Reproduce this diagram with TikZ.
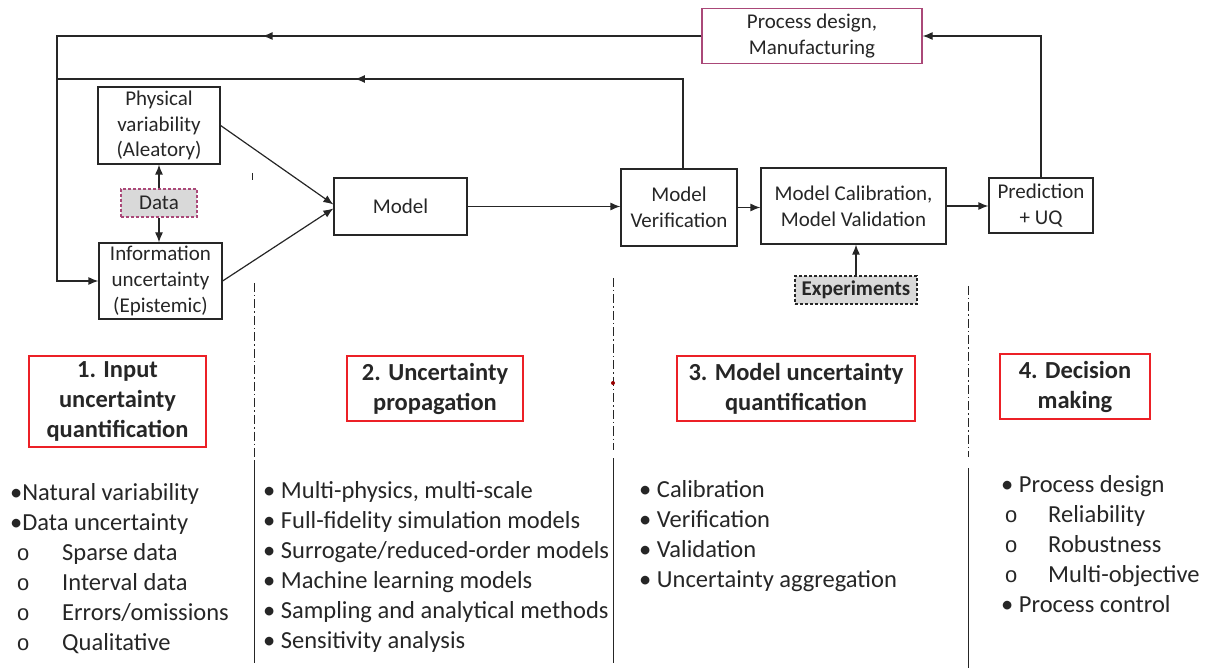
\documentclass[tikz,border=0pt]{standalone}
\usepackage{fontspec}
\setmainfont{Carlito}
\newfontfamily\monofont{Liberation Mono}
\usetikzlibrary{arrows, arrows.meta}
\usetikzlibrary{calc}

\definecolor{ink}{RGB}{38,38,38}
\definecolor{plum}{RGB}{170,72,120}
\definecolor{boxred}{RGB}{236,32,38}
\definecolor{fillgray}{RGB}{217,217,217}

% sub-bullet: offset of the o, tab width, text
\newcommand{\subpt}[3]{\makebox[#2][l]{\hspace*{#1}{\monofont\fontsize{22}{30}\selectfont o}}#3}

\tikzset{
  blk/.style={draw=ink, line width=1.2pt, text=ink, align=center, inner sep=0pt,
    font=\fontsize{21}{25.6}\selectfont},
  tag/.style={blk, dash pattern=on 3pt off 2pt, fill=fillgray},
  stage/.style={draw=boxred, line width=2pt, text=ink, align=center, inner sep=0pt,
    font=\fontsize{24.5}{30}\selectfont\bfseries},
  item/.style={text=ink, align=left, inner sep=0pt, anchor=base west,
    font=\fontsize{24.5}{30}\selectfont},
  lnk/.style={draw=ink, line width=1.2pt},
  arr/.style={lnk, -{Latex[length=10pt,width=8pt]}},
  sep/.style={draw=ink, line width=0.8pt, dash pattern=on 9pt off 3pt on 1.5pt off 3pt},
}

\begin{document}
\begin{tikzpicture}[x=1pt, y=-1pt]
\useasboundingbox (0,0) rectangle (1211,668);

% flow blocks
\node[blk, draw=plum, minimum width=220pt, minimum height=55pt] (pd) at (812,36) {Process design,\\Manufacturing};
\node[blk, minimum width=122pt, minimum height=77pt] (phys) at (159,125.5) {Physical\\variability\\(Aleatory)};
\node[tag, draw=plum, minimum width=76pt, minimum height=28pt] (data) at (159,203) {Data};
\node[blk, minimum width=123pt, minimum height=76pt] (info) at (160.5,281) {Information\\uncertainty\\(Epistemic)};
\node[blk, minimum width=133pt, minimum height=57pt] (model) at (400.5,206.5) {Model};
\node[blk, minimum width=116pt, minimum height=77pt] (ver) at (679,207.5) {Model\\Verification};
\node[blk, minimum width=185pt, minimum height=76pt] (cal) at (853.5,206) {Model Calibration,\\Model Validation};
\node[blk, minimum width=104pt, minimum height=55pt] (pred) at (1041,205.5) {Prediction\\+ UQ};
\node[tag, font=\fontsize{21}{25.6}\selectfont\bfseries, minimum width=122pt, minimum height=28pt] (exp) at (856,290) {Experiments};

\coordinate (tl) at (57,36);
\coordinate (ml) at (57,79);
\coordinate (vt) at ($(ver.north)+(4,0)$);
\coordinate (mr) at (vt |- ml);

% feedback loops
\draw[arr] (pred.north) |- (pd.east);
\draw[arr] (pd.west) -- (tl) |- (info.west);
\draw[arr] (pd.west) -- ($(tl)!0.319!(pd.west)$);
\draw[lnk] (vt) -- (mr) -- (ml);
\draw[arr] (mr) -- ($(ml)!0.476!(mr)$);

% forward flow
\draw[arr] (data.north) -- (data.north |- phys.south);
\draw[arr] (data.south) -- (data.south |- info.north);
\draw[arr] (phys.east) -- ([yshift=2pt]model.west);
\draw[arr] (info.east) -- ([yshift=-2pt]model.west);
\draw[arr] (model.east) -- (model.east -| ver.west);
\draw[arr] (ver.east) -- (ver.east -| cal.west);
\draw[arr] (cal.east) -- (cal.east -| pred.west);
\draw[arr] (exp.north) -- (exp.north |- cal.south);

% column separators
\draw[sep] (254.5,283) -- (254.5,457);
\draw[lnk, line width=1pt] (254.5,460) -- (254.5,663);
\draw[sep] (613,278) -- (613,450);
\draw[lnk, line width=1pt] (613,458) -- (613,663);
\draw[sep] (968,286) -- (968,457);
\draw[lnk, line width=1pt] (968,468) -- (968,668);
\fill[red!60!black] (613,383) circle (2pt);
\draw[ink, line width=0.8pt] (252,173) -- (252,180);

% stages
\node[stage, minimum width=177pt, minimum height=91pt] (s1) at (117.5,401.5) {1. Input\\uncertainty\\quantification};
\node[stage, minimum width=176pt, minimum height=65pt] (s2) at (435,388.5) {2. Uncertainty\\propagation};
\node[stage, minimum width=238pt, minimum height=65pt] (s3) at (796,388.5) {3. Model uncertainty\\quantification};
\node[stage, minimum width=150pt, minimum height=65pt] (s4) at (1075,386.5) {4. Decision\\making};

% lists (base = last line)
\node[item] (l1) at (10,650) {•Natural variability\\•Data uncertainty\\
  \subpt{6.4pt}{52pt}{Sparse data}\\\subpt{6.4pt}{52pt}{Interval data}\\
  \subpt{6.4pt}{52pt}{Errors/omissions}\\\subpt{6.4pt}{52pt}{Qualitative}};
\node[item] (l2) at (263,648) {• Multi-physics, multi-scale\\• Full-fidelity simulation models\\
  • Surrogate/reduced-order models\\• Machine learning models\\
  • Sampling and analytical methods\\• Sensitivity analysis};
\node[item] (l3) at (639,587) {• Calibration\\• Verification\\• Validation\\• Uncertainty aggregation};
\node[item] (l4) at (1001,612) {• Process design\\\subpt{3.4pt}{47pt}{Reliability}\\
  \subpt{3.4pt}{47pt}{Robustness}\\\subpt{3.4pt}{47pt}{Multi-objective}\\• Process control};
\end{tikzpicture}
\end{document}
